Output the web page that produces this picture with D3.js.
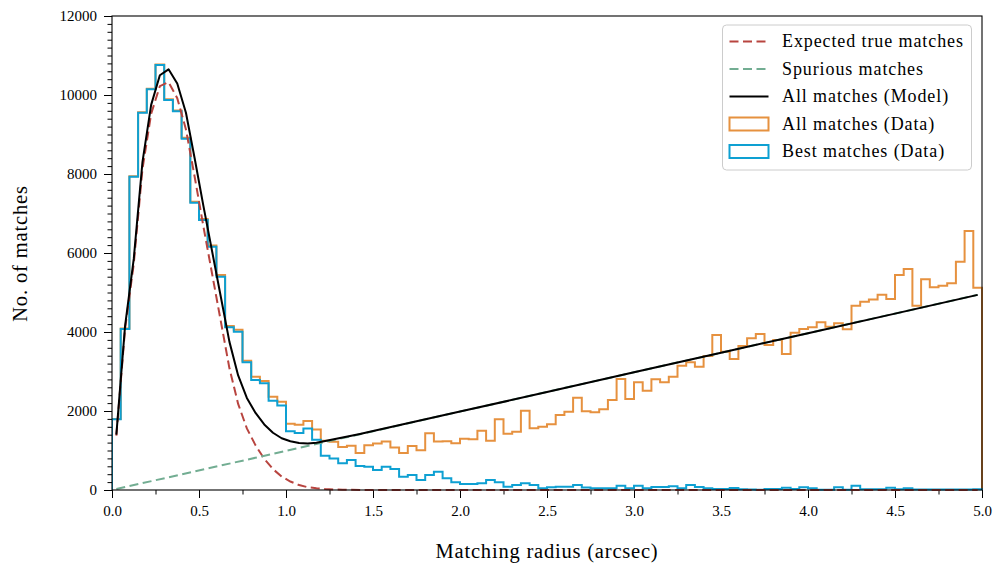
<!DOCTYPE html>
<html>
<head>
<meta charset="utf-8">
<script src="https://cdn.jsdelivr.net/npm/d3@7"></script>
<style>
  html, body { margin: 0; padding: 0; background: #fff; }
  svg { display: block; }
  text { font-family: "Liberation Serif", "Times New Roman", serif; fill: #000; }
</style>
</head>
<body>
<svg id="chart" width="994" height="565"></svg>
<script>
// ---------------- data ----------------
const binStart = 0.0;
const binWidth = 0.05;

// "All matches (Data)" counts per 0.05-arcsec bin (0.00 .. 5.00)
const allMatchesData = [
  1800, 4090, 7945, 9565, 10160, 10775, 9890, 9610, 8915, 7300,
  6860, 6190, 5440, 4150, 4060, 3275, 2870, 2760, 2363, 2236,
  1680, 1650, 1750, 1530, 1250, 1220, 1090, 1120, 935, 1130,
  1175, 1230, 1075, 935, 1115, 1005, 1435, 1230, 1235, 1181,
  1300, 1285, 1502, 1245, 1789, 1425, 1477, 2008, 1561, 1603,
  1662, 1899, 1983, 2338, 1995, 1966, 2042, 2278, 2810, 2304,
  2726, 2515, 2802, 2726, 2869, 3148, 3232, 3122, 3392, 3924,
  3502, 3316, 3646, 3840, 3949, 3671, 3797, 3443, 3983, 4076,
  4118, 4245, 4135, 4219, 4068, 4667, 4768, 4820, 4945, 4835,
  5443, 5595, 4667, 5333, 5131, 5173, 5232, 5781, 6557, 5122
];

// "Best matches (Data)" counts per 0.05-arcsec bin
const bestMatchesData = [
  1790, 4076, 7932, 9553, 10143, 10759, 9873, 9590, 8895, 7274,
  6835, 6160, 5400, 4118, 4008, 3232, 2785, 2700, 2262, 2140,
  1490, 1440, 1560, 1270, 870, 795, 675, 759, 610, 590,
  506, 591, 532, 338, 380, 253, 380, 464, 295, 194,
  152, 152, 169, 253, 194, 84, 127, 169, 127, 42,
  68, 84, 84, 127, 65, 42, 42, 42, 110, 42,
  110, 42, 76, 76, 93, 42, 127, 76, 42, 25,
  25, 50, 17, 10, 8, 25, 25, 59, 25, 68,
  42, 8, 8, 68, 8, 110, 17, 17, 17, 59,
  17, 42, 15, 15, 15, 15, 15, 15, 15, 20
];

// model curves, sampled at bin centres (radius in arcsec)
const modelRadius = [
  0.025, 0.075, 0.125, 0.175, 0.225, 0.275, 0.325, 0.375, 0.425, 0.475,
  0.525, 0.575, 0.625, 0.675, 0.725, 0.775, 0.825, 0.875, 0.925, 0.975,
  1.025, 1.075, 1.125, 1.175, 1.225, 1.275, 1.325, 1.375, 1.425, 1.475,
  2.0, 2.5, 3.0, 3.5, 4.0, 4.5, 4.975
];
const allMatchesModel = [
  1400, 4150, 5850, 8300, 9750, 10500, 10650, 10290, 9550, 8400,
  7200, 6050, 4900, 3750, 2900, 2330, 1950, 1660, 1450, 1310,
  1235, 1190, 1180, 1195, 1240, 1285, 1330, 1375, 1420, 1470,
  1985, 2480, 2980, 3475, 3970, 4465, 4940
];
const expectedTrue = [
  1375, 4075, 5725, 8125, 9525, 10225, 10325, 9920, 9130, 7930,
  6680, 5480, 4280, 3080, 2180, 1560, 1130, 790, 530, 340,
  215, 125, 70, 42, 25, 14, 8, 4, 2, 1,
  0, 0, 0, 0, 0, 0, 0
];
const spuriousRadius = [0.025, 1.0, 2.0, 3.0, 4.0, 4.975];
const spuriousModel  = [25, 990, 1985, 2980, 3970, 4940];

const xTicks = [0.0, 0.5, 1.0, 1.5, 2.0, 2.5, 3.0, 3.5, 4.0, 4.5, 5.0];
const yTicks = [0, 2000, 4000, 6000, 8000, 10000, 12000];

const legendLabels = [
  "Expected true matches",
  "Spurious matches",
  "All matches (Model)",
  "All matches (Data)",
  "Best matches (Data)"
];

// ---------------- styles ----------------
const C = {
  red: "#b8443f",
  green: "#72ad92",
  black: "#000000",
  orange: "#e6913f",
  blue: "#0ea0d2"
};

// ---------------- layout ----------------
const svg = d3.select("#chart");
const L = 112, R = 982, T = 16, B = 490;
const x = d3.scaleLinear().domain([0, 5]).range([L, R]);
const y = d3.scaleLinear().domain([0, 12000]).range([B, T]);

svg.append("defs").append("clipPath").attr("id", "plotclip")
  .append("rect").attr("x", L).attr("y", T - 2).attr("width", R - L + 2).attr("height", B - T + 4);

// ---------------- axes ----------------
const fmt = d3.format(".1f");
const minorX = d3.range(0, 5.0001, 0.25).filter(v => Math.abs(v * 2 - Math.round(v * 2)) > 1e-6);
const minorY = d3.range(0, 12001, 200).filter(v => v % 2000 !== 0);

const gx = svg.append("g").attr("transform", `translate(0,${B})`)
  .call(d3.axisBottom(x).tickValues(xTicks).tickFormat(fmt).tickSize(8).tickPadding(7.5));
const gxm = svg.append("g").attr("transform", `translate(0,${B})`)
  .call(d3.axisBottom(x).tickValues(minorX).tickFormat("").tickSize(4.5));
const gy = svg.append("g").attr("transform", `translate(${L},0)`)
  .call(d3.axisLeft(y).tickValues(yTicks).tickFormat(d3.format("d")).tickSize(8).tickPadding(7));
const gym = svg.append("g").attr("transform", `translate(${L},0)`)
  .call(d3.axisLeft(y).tickValues(minorY).tickFormat("").tickSize(4.5));

[gx, gxm, gy, gym].forEach(g => {
  g.select(".domain").remove();
  g.selectAll(".tick line").attr("stroke", "#000").attr("stroke-width", 1);
  g.selectAll(".tick text")
    .attr("font-family", "'Liberation Serif', serif")
    .attr("font-size", 15).attr("fill", "#000");
});

// ---------------- histograms ----------------
function stepPoints(counts) {
  const pts = [[binStart, 0]];
  counts.forEach((v, i) => pts.push([binStart + i * binWidth, v]));
  const end = binStart + counts.length * binWidth;
  pts.push([end, counts[counts.length - 1]]);
  pts.push([end, 0]);
  return pts;
}
const stepLine = d3.line().x(d => x(d[0])).y(d => y(d[1])).curve(d3.curveStepAfter);

const plot = svg.append("g").attr("clip-path", "url(#plotclip)");

plot.append("path").datum(stepPoints(allMatchesData))
  .attr("d", stepLine).attr("fill", "none")
  .attr("stroke", C.orange).attr("stroke-width", 2).attr("stroke-linejoin", "miter");
plot.append("path").datum(stepPoints(bestMatchesData))
  .attr("d", stepLine).attr("fill", "none")
  .attr("stroke", C.blue).attr("stroke-width", 2).attr("stroke-linejoin", "miter");

// ---------------- model lines ----------------
const line = d3.line().x(d => x(d[0])).y(d => y(d[1]));
const trueData = modelRadius.map((r, i) => [r, expectedTrue[i]]);
const spurData = spuriousRadius.map((r, i) => [r, spuriousModel[i]]);
const modelData = modelRadius.map((r, i) => [r, allMatchesModel[i]]);

plot.append("path").datum(trueData).attr("d", line).attr("fill", "none")
  .attr("stroke", C.red).attr("stroke-width", 2).attr("stroke-dasharray", "9,4.5");
plot.append("path").datum(spurData).attr("d", line).attr("fill", "none")
  .attr("stroke", C.green).attr("stroke-width", 2).attr("stroke-dasharray", "9,4.5");
plot.append("path").datum(modelData).attr("d", line).attr("fill", "none")
  .attr("stroke", C.black).attr("stroke-width", 2).attr("stroke-linejoin", "round");

// ---------------- frame ----------------
svg.append("rect").attr("x", L).attr("y", T).attr("width", R - L).attr("height", B - T)
  .attr("fill", "none").attr("stroke", "#000").attr("stroke-width", 1.1);

// ---------------- labels ----------------
svg.append("text").attr("x", (L + R) / 2).attr("y", 558)
  .attr("text-anchor", "middle").attr("font-size", 20.5).attr("letter-spacing", "0.8px")
  .text("Matching radius (arcsec)");
svg.append("text").attr("transform", `translate(27,${(185 + 322) / 2}) rotate(-90)`)
  .attr("text-anchor", "middle").attr("font-size", 20.5).attr("letter-spacing", "0.85px")
  .text("No. of matches");

// ---------------- legend ----------------
const lg = svg.append("g");
lg.append("rect").attr("x", 722.5).attr("y", 25).attr("width", 249).attr("height", 145)
  .attr("rx", 4).attr("ry", 4)
  .attr("fill", "#fff").attr("fill-opacity", 0.8)
  .attr("stroke", "#cccccc").attr("stroke-width", 1);

const rowBase = [47.3, 74.8, 102.3, 129.8, 157.3];
const hx0 = 729.5, hx1 = 768.5;
const handles = [
  { type: "line", color: C.red, dash: "9,4.5" },
  { type: "line", color: C.green, dash: "9,4.5" },
  { type: "line", color: C.black, dash: null },
  { type: "rect", color: C.orange },
  { type: "rect", color: C.blue }
];
handles.forEach((h, i) => {
  const cy = rowBase[i] - 5.8;
  if (h.type === "line") {
    const l = lg.append("line").attr("x1", hx0).attr("x2", hx1).attr("y1", cy).attr("y2", cy)
      .attr("stroke", h.color).attr("stroke-width", 2);
    if (h.dash) l.attr("stroke-dasharray", h.dash);
  } else {
    lg.append("rect").attr("x", hx0).attr("y", cy - 6.5).attr("width", hx1 - hx0).attr("height", 13)
      .attr("fill", "none").attr("stroke", h.color).attr("stroke-width", 2);
  }
  lg.append("text").attr("x", 782).attr("y", rowBase[i])
    .attr("font-size", 18).attr("letter-spacing", "0.9px")
    .text(legendLabels[i]);
});
</script>
</body>
</html>
